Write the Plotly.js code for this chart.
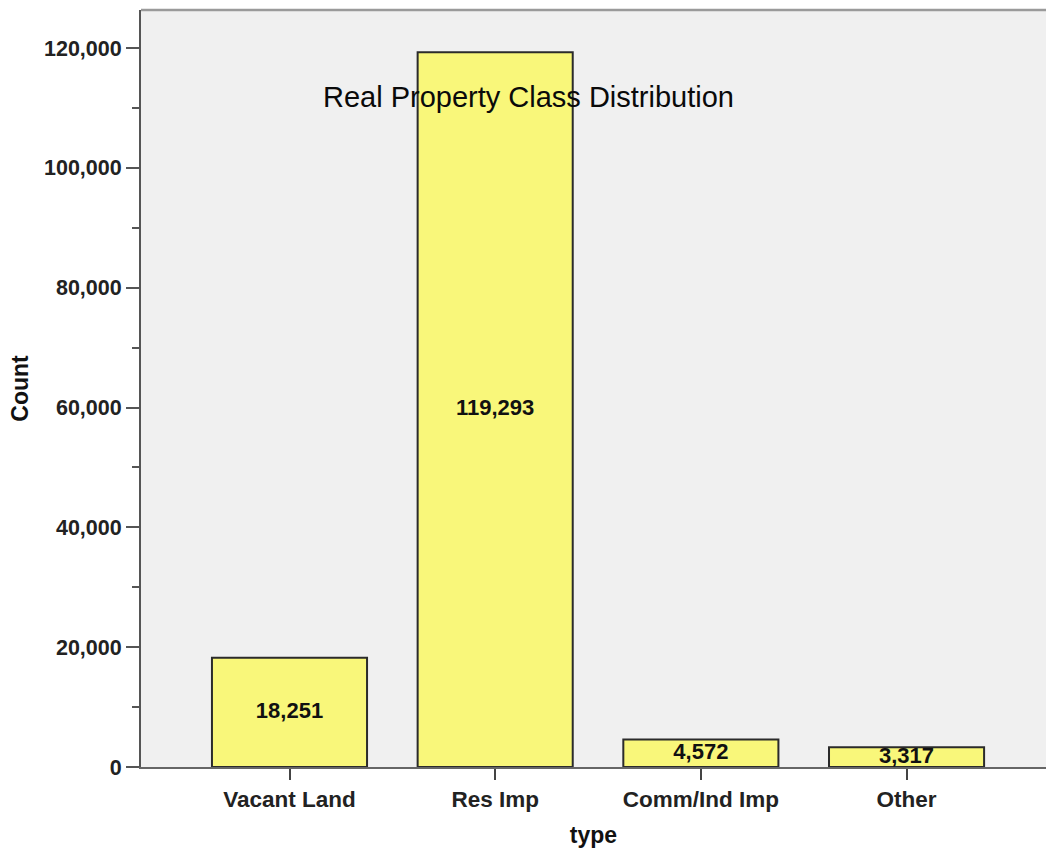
<!DOCTYPE html>
<html>
<head>
<meta charset="utf-8">
<script src="https://cdn.plot.ly/plotly-3.0.1.min.js"></script>
<style>
  html, body { margin: 0; padding: 0; background: #ffffff; }
  #chart { width: 1046px; height: 850px; }
</style>
</head>
<body>
<div id="chart"></div>
<script>
// Property class counts
const categories = ["Vacant Land", "Res Imp", "Comm/Ind Imp", "Other"];
const counts = [18251, 119293, 4572, 3317];
const yTickValues = [0, 20000, 40000, 60000, 80000, 100000, 120000];

const FONT = '"Liberation Sans", Arial, Helvetica, sans-serif';
const fmt = v => v.toLocaleString('en-US');

const bars = {
  type: 'bar',
  x: categories,
  y: counts,
  width: 0.754,
  marker: { color: '#F9F77A', line: { color: '#2b2b2b', width: 2 } },
  hoverinfo: 'x+y'
};

// value labels sit in the middle of each bar
const labels = {
  type: 'scatter',
  mode: 'text',
  x: categories,
  y: counts.map(v => v / 2),
  text: counts.map(fmt),
  textposition: 'middle center',
  textfont: { family: FONT, size: 22, color: '#111111', weight: 'bold' },
  cliponaxis: false,
  hoverinfo: 'skip',
  showlegend: false
};

const layout = {
  width: 1046,
  height: 850,
  margin: { l: 141, r: 0, t: 10, b: 83 },
  paper_bgcolor: '#ffffff',
  plot_bgcolor: '#F0F0F0',
  showlegend: false,
  font: { family: FONT, color: '#111111' },
  xaxis: {
    type: 'category',
    range: [-0.722, 3.678],
    showgrid: false,
    zeroline: false,
    showline: true,
    linecolor: '#666666',
    linewidth: 1.5,
    ticks: 'outside',
    ticklen: 11,
    tickwidth: 2,
    tickcolor: '#444444',
    tickfont: { family: FONT, size: 22.5, color: '#222222', weight: 'bold' },
    title: { text: 'type', font: { family: FONT, size: 23, color: '#111111', weight: 'bold' }, standoff: 16 }
  },
  yaxis: {
    range: [0, 126342],
    tickmode: 'array',
    tickvals: yTickValues,
    ticktext: yTickValues.map(fmt),
    showgrid: false,
    zeroline: false,
    showline: true,
    linecolor: '#555555',
    linewidth: 2,
    ticks: 'outside',
    ticklen: 13,
    tickwidth: 2,
    tickcolor: '#555555',
    minor: { tickmode: 'linear', tick0: 0, dtick: 10000, ticks: 'outside', ticklen: 7, tickwidth: 2, tickcolor: '#555555', showgrid: false },
    tickfont: { family: FONT, size: 21.5, color: '#222222', weight: 'bold' },
    title: { text: 'Count', font: { family: FONT, size: 23, color: '#111111', weight: 'bold' }, standoff: 9 }
  },
  shapes: [
    { type: 'line', xref: 'paper', yref: 'paper', x0: 0, x1: 1, y0: 1, y1: 1,
      line: { color: '#9a9a9a', width: 2.5 } }
  ],
  annotations: [
    { text: 'Real Property Class Distribution', xref: 'paper', yref: 'paper',
      x: 0.4287, y: 0.885, xanchor: 'center', yanchor: 'middle', showarrow: false,
      font: { family: FONT, size: 29, color: '#0a0a0a' } }
  ]
};

Plotly.newPlot('chart', [bars, labels], layout, { displayModeBar: false, staticPlot: true });
</script>
</body>
</html>
